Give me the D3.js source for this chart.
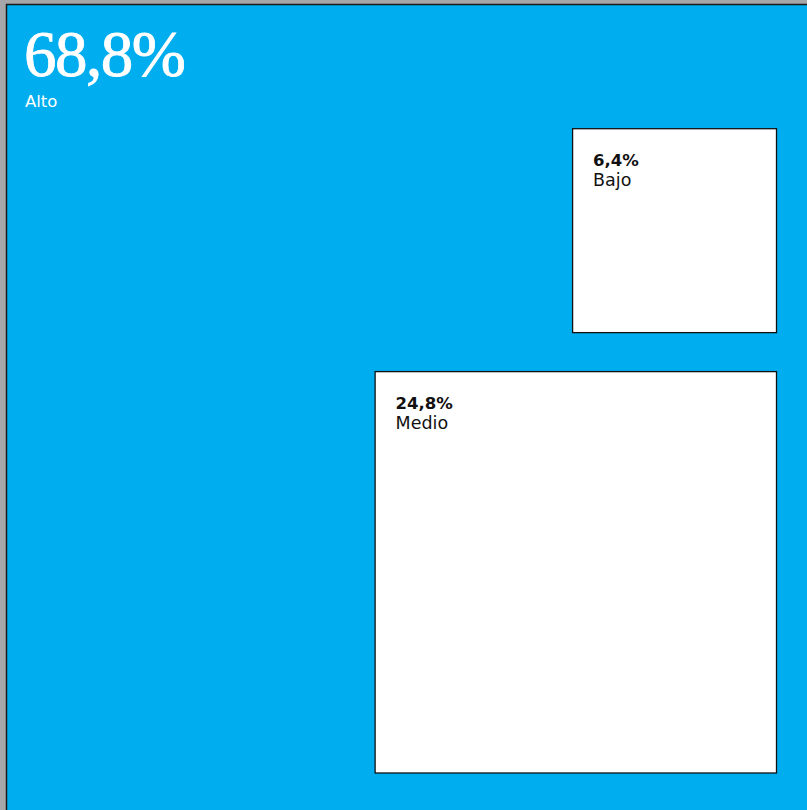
<!DOCTYPE html>
<html>
<head>
<meta charset="utf-8">
<script src="https://cdn.jsdelivr.net/npm/d3@7"></script>
<style>
  html, body { margin: 0; padding: 0; background: #a7a7a9; overflow: hidden; }
  svg { display: block; }
</style>
</head>
<body>
<svg id="chart" width="807" height="810"></svg>
<script>
const categories = ["Alto", "Medio", "Bajo"];
const values = [68.8, 24.8, 6.4];
const valueLabels = ["68,8%", "24,8%", "6,4%"];

const W = 807, H = 810;
const svg = d3.select("#chart");

const x0 = 6.5, y0 = 4.5, S = 806;
const side = d3.scaleSqrt().domain([0, 100]).range([0, S]);

// background square (total; remainder = Alto)
svg.append("rect")
  .attr("x", x0).attr("y", y0)
  .attr("width", S + 12).attr("height", S + 12)
  .attr("fill", "#00aeef")
  .attr("stroke", "#1a1a1a").attr("stroke-width", 1.5);

// Alto label
svg.append("text")
  .attr("x", 24).attr("y", 76)
  .attr("fill", "#fff")
  .attr("font-family", "'Liberation Serif', 'DejaVu Serif', serif")
  .attr("font-size", 65)
  .attr("letter-spacing", -1.5)
  .attr("stroke", "#fff").attr("stroke-width", 0.8)
  .text(valueLabels[0]);
svg.append("text")
  .attr("x", 25).attr("y", 107)
  .attr("fill", "#fff")
  .attr("font-family", "'DejaVu Sans', sans-serif")
  .attr("font-size", 16.5)
  .text(categories[0]);

const right = 776.5, bottom = 773, gap = 39;
const sMedio = side(values[1]);
const sBajo = side(values[2]);
const boxes = [
  { i: 1, s: sMedio, x: right - sMedio, y: bottom - sMedio },
  { i: 2, s: sBajo, x: right - sBajo, y: bottom - sMedio - gap - sBajo }
];

const g = svg.selectAll("g.box").data(boxes).join("g").attr("class", "box")
  .attr("transform", d => `translate(${d.x},${d.y})`);
g.append("rect")
  .attr("width", d => d.s).attr("height", d => d.s)
  .attr("fill", "#fff")
  .attr("stroke", "#111").attr("stroke-width", 1.3);
g.append("text")
  .attr("x", 20.5).attr("y", 37)
  .attr("fill", "#111")
  .attr("font-family", "'DejaVu Sans', sans-serif")
  .attr("font-weight", 700)
  .attr("font-size", 16.5)
  .text(d => valueLabels[d.i]);
g.append("text")
  .attr("x", 20.5).attr("y", 57.5)
  .attr("fill", "#111")
  .attr("font-family", "'DejaVu Sans', sans-serif")
  .attr("font-size", 17.5)
  .text(d => categories[d.i]);
</script>
</body>
</html>
